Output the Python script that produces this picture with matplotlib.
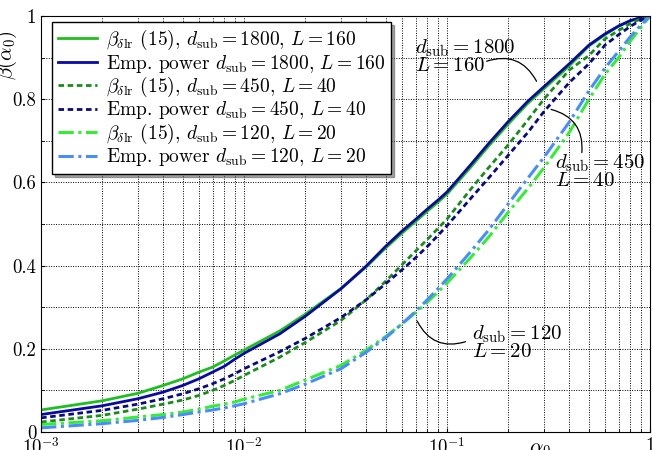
import math
import matplotlib
matplotlib.use("Agg")
import matplotlib.pyplot as plt
from matplotlib.ticker import FixedLocator, FuncFormatter, MultipleLocator, LogLocator

plt.rcParams['font.family'] = 'serif'
plt.rcParams['font.serif'] = ['cmr10', 'DejaVu Serif']
plt.rcParams['mathtext.fontset'] = 'cm'
plt.rcParams['axes.formatter.use_mathtext'] = True

# significance level alpha_0
alpha = [0.001, 0.002, 0.003, 0.004, 0.005, 0.006, 0.007, 0.008, 0.009, 0.01,
         0.015, 0.02, 0.03, 0.04, 0.05, 0.06, 0.07, 0.08, 0.09, 0.1,
         0.13, 0.16, 0.2, 0.25, 0.3, 0.4, 0.5, 0.6, 0.7, 0.8, 0.9, 1.0]

# d_sub = 1800, L = 160
beta_1800 = [0.053, 0.075, 0.093, 0.112, 0.128, 0.144, 0.156, 0.171, 0.185, 0.197,
             0.243, 0.283, 0.345, 0.397, 0.443, 0.478, 0.506, 0.531, 0.552, 0.572,
             0.635, 0.687, 0.740, 0.790, 0.825, 0.880, 0.928, 0.955, 0.975, 0.988, 0.996, 1.0]
emp_1800 = [0.042, 0.063, 0.080, 0.096, 0.112, 0.128, 0.144, 0.158, 0.175, 0.189,
            0.236, 0.278, 0.344, 0.399, 0.447, 0.483, 0.511, 0.536, 0.557, 0.577,
            0.641, 0.693, 0.746, 0.795, 0.830, 0.885, 0.930, 0.957, 0.976, 0.989, 0.996, 1.0]

# d_sub = 450, L = 40
beta_450 = [0.024, 0.040, 0.055, 0.067, 0.077, 0.088, 0.100, 0.112, 0.124, 0.136,
            0.180, 0.215, 0.268, 0.318, 0.363, 0.402, 0.435, 0.463, 0.489, 0.512,
            0.582, 0.635, 0.690, 0.750, 0.800, 0.870, 0.905, 0.945, 0.965, 0.982, 0.993, 1.0]
emp_450 = [0.034, 0.052, 0.067, 0.080, 0.092, 0.104, 0.116, 0.128, 0.140, 0.152,
           0.193, 0.225, 0.275, 0.318, 0.357, 0.390, 0.419, 0.446, 0.472, 0.496,
           0.560, 0.610, 0.665, 0.720, 0.770, 0.840, 0.885, 0.930, 0.955, 0.975, 0.990, 1.0]

# d_sub = 120, L = 20
beta_120 = [0.018, 0.027, 0.036, 0.042, 0.048, 0.055, 0.062, 0.067, 0.072, 0.079,
            0.100, 0.125, 0.160, 0.197, 0.230, 0.260, 0.287, 0.312, 0.336, 0.358,
            0.418, 0.468, 0.528, 0.585, 0.635, 0.720, 0.800, 0.860, 0.900, 0.940, 0.972, 1.0]
emp_120 = [0.010, 0.020, 0.028, 0.035, 0.042, 0.048, 0.053, 0.058, 0.063, 0.068,
           0.092, 0.115, 0.152, 0.192, 0.227, 0.260, 0.290, 0.318, 0.344, 0.368,
           0.432, 0.485, 0.548, 0.610, 0.660, 0.745, 0.820, 0.875, 0.915, 0.950, 0.978, 1.0]

fig = plt.figure(figsize=(6.52, 4.5), dpi=100)
ax = fig.add_axes([0.063, 0.04, 0.934, 0.9245])

dot = (0, (2, 1.3))
dashdot = (0, (5, 1.5, 1, 1.5))
ax.plot(alpha, beta_1800, color='#1fbf1f', lw=2,
        label=r'$\beta_{\delta\mathrm{lr}}$ (15), $d_{\mathrm{sub}}=1800$, $L=160$')
ax.plot(alpha, emp_1800, color='#0a0aa0', lw=2,
        label=r'Emp. power $d_{\mathrm{sub}}=1800$, $L=160$')
ax.plot(alpha, beta_450, color='#1a8c1a', lw=2, ls=dot,
        label=r'$\beta_{\delta\mathrm{lr}}$ (15), $d_{\mathrm{sub}}=450$, $L=40$')
ax.plot(alpha, emp_450, color='#0a0a80', lw=2, ls=dot,
        label=r'Emp. power $d_{\mathrm{sub}}=450$, $L=40$')
ax.plot(alpha, beta_120, color='#33ee33', lw=2.2, ls=dashdot,
        label=r'$\beta_{\delta\mathrm{lr}}$ (15), $d_{\mathrm{sub}}=120$, $L=20$')
ax.plot(alpha, emp_120, color='#4a8cff', lw=2.2, ls=dashdot,
        label=r'Emp. power $d_{\mathrm{sub}}=120$, $L=20$')

ax.set_xscale('log')
ax.set_xlim(1e-3, 1)
ax.set_ylim(0, 1)

ax.xaxis.set_major_locator(FixedLocator([1e-3, 1e-2, 1e-1, 1]))
ax.xaxis.set_major_formatter(FuncFormatter(
    lambda v, p: '1' if v >= 1 else r'$10^{%d}$' % round(math.log10(v))))
ax.xaxis.set_minor_locator(LogLocator(base=10, subs=range(2, 10)))
ax.xaxis.set_minor_formatter(FuncFormatter(lambda v, p: ''))
ax.yaxis.set_major_locator(MultipleLocator(0.2))
ax.yaxis.set_minor_locator(MultipleLocator(0.1))
ax.yaxis.set_major_formatter(FuncFormatter(
    lambda v, p: '0' if abs(v) < 1e-9 else ('1' if abs(v - 1) < 1e-9 else '%.1f' % v)))

ax.grid(True, which='both', color='black', ls=(0, (1, 1.5)), lw=0.7)
ax.tick_params(which='both', direction='in', labelsize=13.5)
ax.tick_params(which='major', length=3)
ax.tick_params(which='minor', length=2)

ax.set_ylabel(r'$\beta(\alpha_0)$', fontsize=15)
ax.yaxis.set_label_coords(-0.037, 0.905)
ax.set_xlabel(r'$\alpha_0$', fontsize=15)
ax.xaxis.set_label_coords(0.82, -0.022)

leg = ax.legend(loc='upper left', bbox_to_anchor=(0.018, 0.985), fancybox=False,
                shadow=True, edgecolor='black', framealpha=1, fontsize=14,
                handlelength=2.0, handletextpad=0.45, labelspacing=0.02,
                borderaxespad=0, borderpad=0.3)
leg.get_frame().set_linewidth(1.0)

line_kw = dict(arrowstyle='-', color='black', lw=0.9)
ax.text(0.0695, 0.903, '$d_{\\mathrm{sub}}=1800$\n$L=160$', fontsize=15,
        ha='left', va='center', linespacing=0.85)
ax.annotate('', xy=(0.28, 0.837), xytext=(0.152, 0.889),
            arrowprops=dict(connectionstyle='arc3,rad=-0.45', **line_kw))
ax.text(0.34, 0.627, '$d_{\\mathrm{sub}}=450$\n$L=40$', fontsize=15,
        ha='left', va='center', linespacing=0.85)
ax.annotate('', xy=(0.46, 0.665), xytext=(0.3155, 0.777),
            arrowprops=dict(connectionstyle='arc3,rad=-0.45', **line_kw))
ax.text(0.133, 0.216, '$d_{\\mathrm{sub}}=120$\n$L=20$', fontsize=15,
        ha='left', va='center', linespacing=0.85)
ax.annotate('', xy=(0.127, 0.219), xytext=(0.0703, 0.2726),
            arrowprops=dict(connectionstyle='arc3,rad=0.45', **line_kw))

fig.savefig('out.png', dpi=100)
